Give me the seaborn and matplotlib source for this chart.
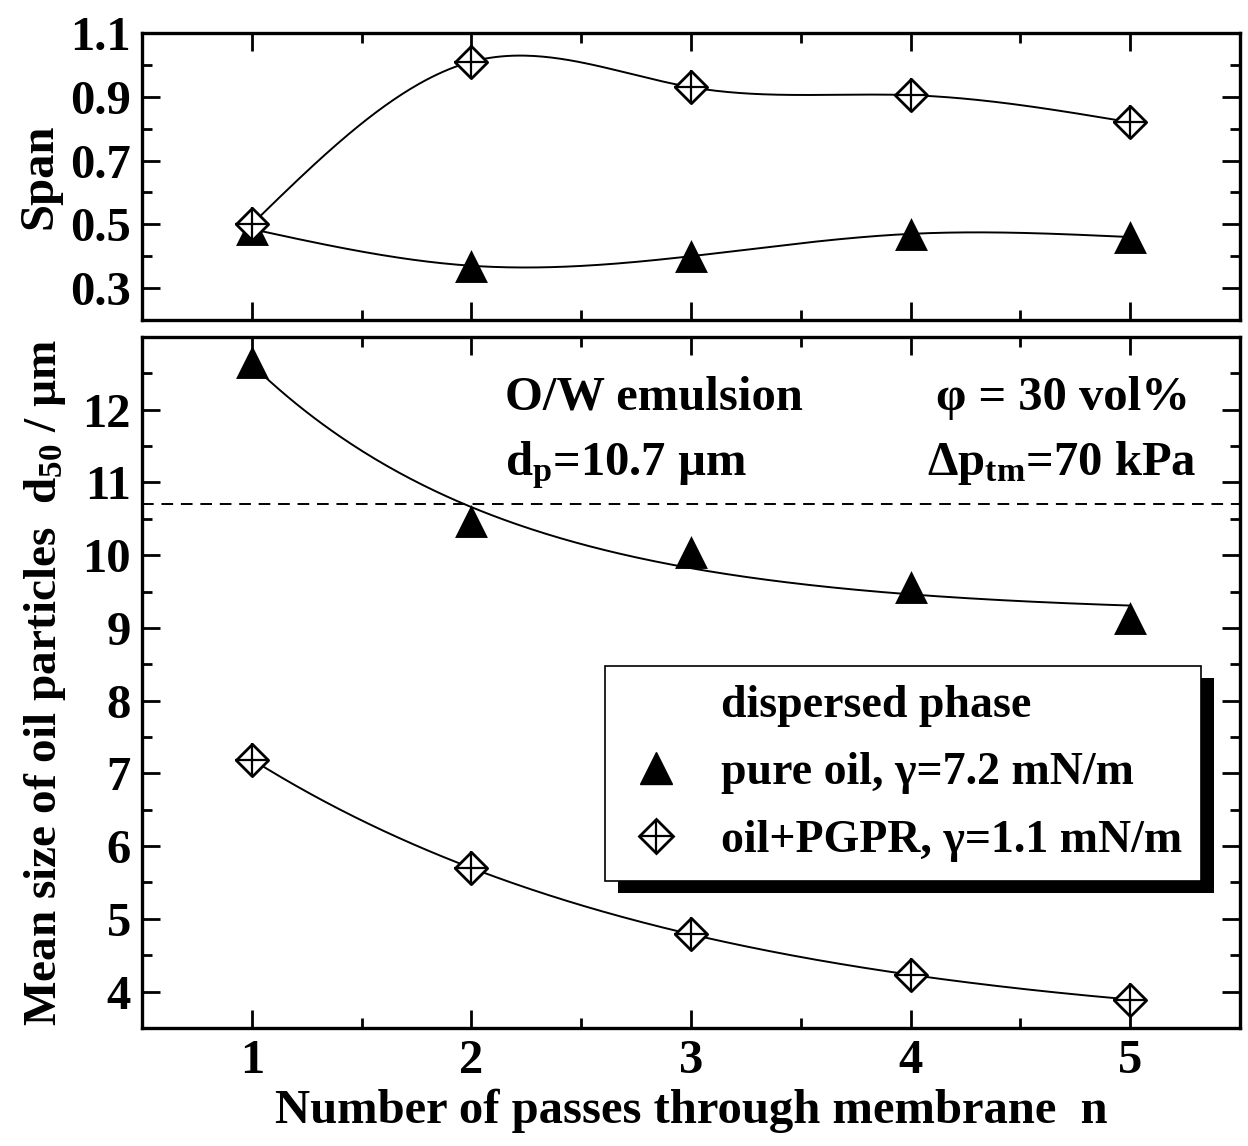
import numpy as np
import pandas as pd
import matplotlib
matplotlib.use("Agg")
import matplotlib.pyplot as plt
import seaborn as sns
from matplotlib.lines import Line2D
from matplotlib.patches import Rectangle

# values
passes = [1, 2, 3, 4, 5]
span_pure = [0.485, 0.37, 0.40, 0.47, 0.46]
span_pgpr = [0.50, 1.01, 0.93, 0.905, 0.82]
d50_pure = [12.66, 10.47, 10.04, 9.56, 9.14]
d50_pgpr = [7.19, 5.70, 4.79, 4.23, 3.89]
pore_size = 10.7

label_pure = "pure oil, γ=7.2 mN/m"
label_pgpr = "oil+PGPR, γ=1.1 mN/m"


def natural_spline(x, y, n=300):
    # natural cubic spline through the points, for the smooth guide lines
    x = np.asarray(x, float)
    y = np.asarray(y, float)
    h = np.diff(x)
    m = len(x)
    A = np.zeros((m, m))
    b = np.zeros(m)
    A[0, 0] = A[-1, -1] = 1
    for i in range(1, m - 1):
        A[i, i - 1] = h[i - 1]
        A[i, i] = 2 * (h[i - 1] + h[i])
        A[i, i + 1] = h[i]
        b[i] = 6 * ((y[i + 1] - y[i]) / h[i] - (y[i] - y[i - 1]) / h[i - 1])
    M = np.linalg.solve(A, b)
    xs = np.linspace(x[0], x[-1], n)
    idx = np.clip(np.searchsorted(x, xs) - 1, 0, m - 2)
    x0, x1 = x[idx], x[idx + 1]
    hh = x1 - x0
    t0, t1 = x1 - xs, xs - x0
    ys = (M[idx] * t0 ** 3 + M[idx + 1] * t1 ** 3) / (6 * hh) \
        + (y[idx] / hh - M[idx] * hh / 6) * t0 + (y[idx + 1] / hh - M[idx + 1] * hh / 6) * t1
    return xs, ys


def exp_fit(x, y, n=300):
    # y = a + b*exp(-k*x), least squares with a scan over k
    x = np.asarray(x, float)
    y = np.asarray(y, float)
    best = None
    for k in np.linspace(0.05, 3, 600):
        A = np.column_stack([np.ones_like(x), np.exp(-k * x)])
        coef = np.linalg.lstsq(A, y, rcond=None)[0]
        err = np.sum((A @ coef - y) ** 2)
        if best is None or err < best[0]:
            best = (err, k, coef)
    _, k, (a, bb) = best
    xs = np.linspace(x[0], x[-1], n)
    return xs, a + bb * np.exp(-k * xs)


sns.set_style("ticks")
plt.rcParams["font.family"] = ["Liberation Serif", "DejaVu Serif"]
plt.rcParams["font.weight"] = "bold"
plt.rcParams["mathtext.fontset"] = "custom"
plt.rcParams["mathtext.rm"] = "Liberation Serif:bold"
plt.rcParams["mathtext.it"] = "Liberation Serif:bold"
plt.rcParams["mathtext.bf"] = "Liberation Serif:bold"
plt.rcParams["mathtext.default"] = "rm"
for key in ("text.color", "axes.labelcolor", "xtick.color", "ytick.color", "axes.edgecolor"):
    plt.rcParams[key] = "black"

fig = plt.figure(figsize=(12.48, 11.46), dpi=100)
ax_top = fig.add_axes([0.1138, 0.7208, 0.8798, 0.2504])
ax_bot = fig.add_axes([0.1138, 0.1030, 0.8798, 0.6030])

tick_fs = 35
black = "black"
line_kw = dict(color=black, linewidth=1.4, legend=False)
tri_kw = dict(marker="^", s=560, color=black, edgecolor=black, linewidth=0, zorder=3, legend=False)
dia_kw = dict(marker="D", s=270, facecolor="white", edgecolor=black, linewidth=2, zorder=3, legend=False)
plus_kw = dict(marker="+", s=580, color=black, linewidth=1.6, zorder=4, legend=False)

# top panel: span
xs, ys = natural_spline(passes, span_pure)
sns.lineplot(x=xs, y=ys, ax=ax_top, **line_kw)
xs, ys = natural_spline(passes, span_pgpr)
sns.lineplot(x=xs, y=ys, ax=ax_top, **line_kw)
sns.scatterplot(x=passes, y=span_pure, ax=ax_top, **tri_kw)
sns.scatterplot(x=passes, y=span_pgpr, ax=ax_top, **dia_kw)
sns.scatterplot(x=passes, y=span_pgpr, ax=ax_top, **plus_kw)

# bottom panel: d50
xs, ys = exp_fit(passes, d50_pure)
sns.lineplot(x=xs, y=ys, ax=ax_bot, **line_kw)
xs, ys = exp_fit(passes, d50_pgpr)
sns.lineplot(x=xs, y=ys, ax=ax_bot, **line_kw)
ax_bot.axhline(pore_size, color=black, linewidth=1.4, linestyle=(0, (6, 4)))
sns.scatterplot(x=passes, y=d50_pure, ax=ax_bot, **tri_kw)
sns.scatterplot(x=passes, y=d50_pgpr, ax=ax_bot, **dia_kw)
sns.scatterplot(x=passes, y=d50_pgpr, ax=ax_bot, **plus_kw)

ax_top.set_xlim(0.5, 5.5)
ax_bot.set_xlim(0.5, 5.5)
ax_top.set_ylim(0.2, 1.1)
ax_bot.set_ylim(3.5, 13.0)

ax_top.set_yticks([0.3, 0.5, 0.7, 0.9, 1.1])
ax_top.set_yticks([0.4, 0.6, 0.8, 1.0], minor=True)
ax_top.set_yticklabels(["0.3", "0.5", "0.7", "0.9", "1.1"])
ax_bot.set_yticks(range(4, 13))
ax_bot.set_yticks(np.arange(3.5, 13.0, 1.0), minor=True)
for ax in (ax_top, ax_bot):
    ax.set_xticks(passes)
    ax.set_xticks([1.5, 2.5, 3.5, 4.5], minor=True)
    ax.tick_params(which="both", direction="in", top=True, right=True, width=2, labelsize=tick_fs, pad=8)
    ax.tick_params(which="major", length=13)
    ax.tick_params(which="minor", length=7)
    for sp in ax.spines.values():
        sp.set_linewidth(2.4)
        sp.set_color(black)
    ax.set_xlabel("")
    ax.set_ylabel("")
ax_top.tick_params(labelbottom=False)

ax_top.set_ylabel("Span", fontsize=35, fontweight="bold", labelpad=6)
ax_bot.set_ylabel("Mean size of oil particles  d$_{50}$ / µm", fontsize=34, fontweight="bold", labelpad=10)
ax_bot.set_xlabel("Number of passes through membrane  n", fontsize=35, fontweight="bold", labelpad=4)

note_fs = 35
ax_bot.text(2.153, 12.0, "O/W emulsion", fontsize=note_fs, fontweight="bold", ha="left", va="baseline")
ax_bot.text(2.153, 11.1, "d$_\\mathregular{p}$=10.7 µm", fontsize=note_fs, fontweight="bold", ha="left", va="baseline")
ax_bot.text(5.272, 12.0, "φ = 30 vol%", fontsize=note_fs, fontweight="bold", ha="right", va="baseline")
ax_bot.text(5.304, 11.1, "Δp$_\\mathregular{tm}$=70 kPa", fontsize=note_fs, fontweight="bold", ha="right", va="baseline")

# legend with a hard black drop shadow
h_title = Line2D([], [], linestyle="none")
h_pure = Line2D([], [], linestyle="none", marker="^", markersize=23, color=black)
h_dia = Line2D([], [], linestyle="none", marker="D", markersize=17, markerfacecolor="white",
               markeredgecolor=black, markeredgewidth=2)
h_plus = Line2D([], [], linestyle="none", marker="+", markersize=25, color=black, markeredgewidth=1.6)
leg = ax_bot.legend([h_title, h_pure, (h_dia, h_plus)], ["dispersed phase", label_pure, label_pgpr],
                    loc="upper left", bbox_to_anchor=(0.4217, 0.524), borderaxespad=0,
                    fancybox=False, framealpha=1, edgecolor=black, fontsize=33,
                    handlelength=1.4, handletextpad=0.7, labelspacing=0.55, borderpad=0.42)
leg.get_frame().set_linewidth(1.2)
leg.set_zorder(6)

fig.canvas.draw()
bb = leg.get_frame().get_window_extent()
inv = ax_bot.transAxes.inverted()
(x0, y0), (x1, y1) = inv.transform([[bb.x0 + 13, bb.y0 - 12], [bb.x1 + 13, bb.y1 - 12]])
ax_bot.add_patch(Rectangle((x0, y0), x1 - x0, y1 - y0, transform=ax_bot.transAxes,
                           facecolor=black, edgecolor="none", zorder=5.5, clip_on=False))

fig.savefig("out.png", dpi=100)
